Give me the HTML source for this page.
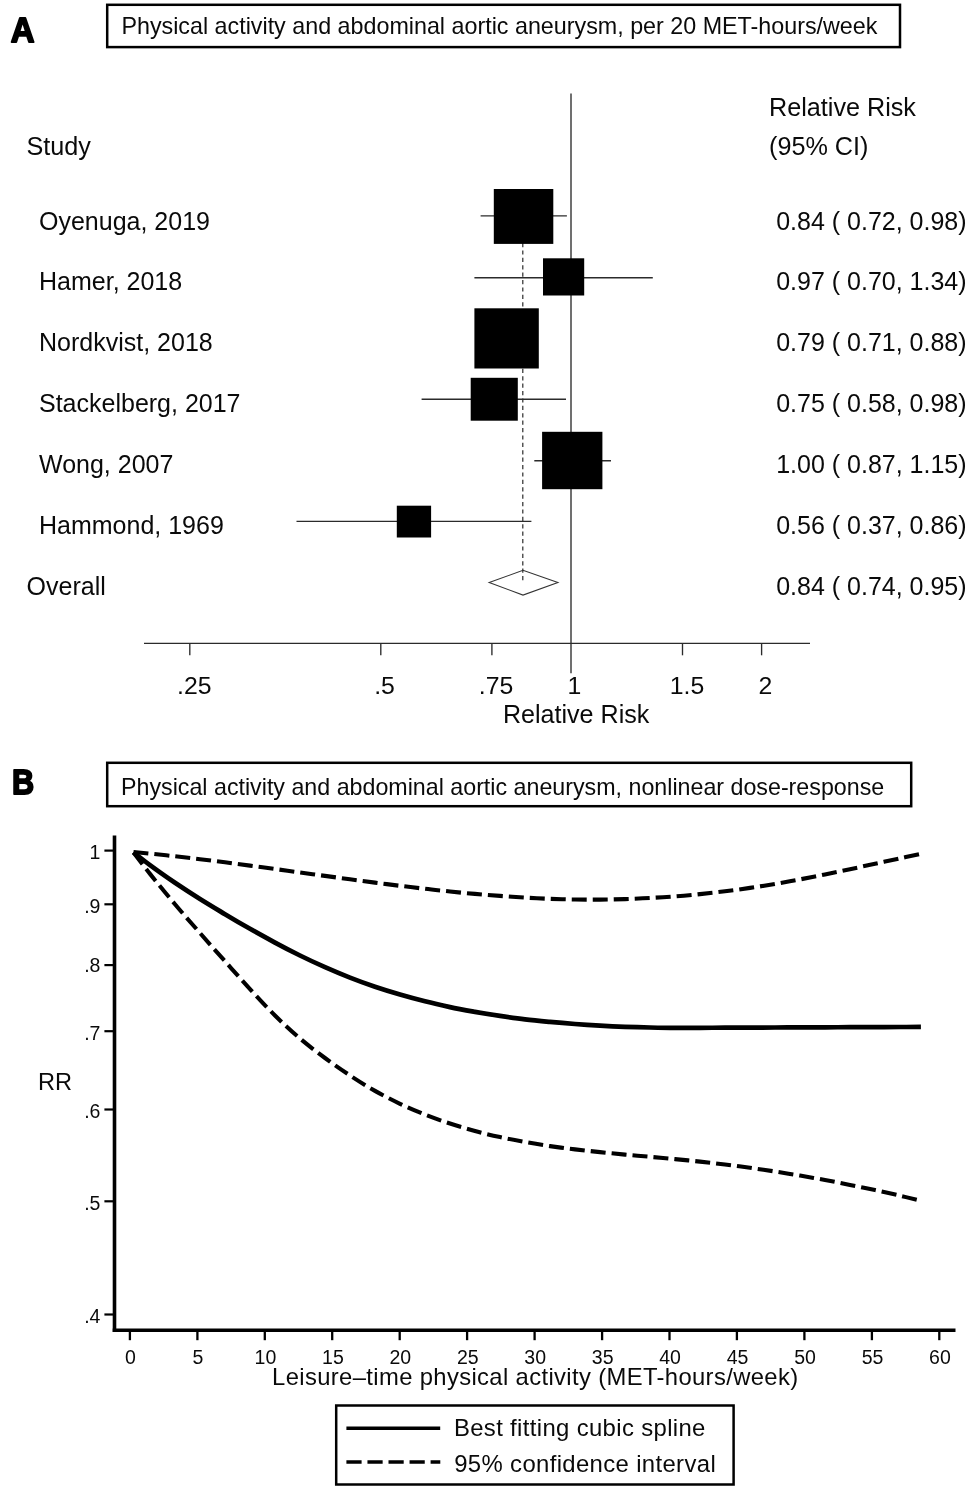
<!DOCTYPE html>
<html><head><meta charset="utf-8"><title>Figure</title>
<style>
html,body{margin:0;padding:0;background:#fff;}
body{width:969px;height:1490px;overflow:hidden;font-family:"Liberation Sans", sans-serif;}
svg{display:block;will-change:transform;font-family:"Liberation Sans", sans-serif;fill:#111;}
svg text{fill:#0a0a0a;}
.pl{fill:#000;stroke:#000;stroke-width:1.9px;stroke-linejoin:round;}
</style></head>
<body>
<svg width="969" height="1490" viewBox="0 0 969 1490">
<rect x="0" y="0" width="969" height="1490" fill="#fff"/>
<text x="10.7" y="42.3" font-size="35.6" text-anchor="start" font-weight="bold" class="pl" textLength="23.8" lengthAdjust="spacingAndGlyphs">A</text>
<rect x="107.2" y="4.8" width="792.8" height="42.3" fill="#fff" stroke="#000" stroke-width="2.5"/>
<text x="121.4" y="33.5" font-size="23.4" text-anchor="start" font-weight="normal" textLength="756" lengthAdjust="spacingAndGlyphs">Physical activity and abdominal aortic aneurysm, per 20 MET-hours/week</text>
<text x="26.4" y="155.2" font-size="25.2" text-anchor="start" font-weight="normal" >Study</text>
<text x="769" y="115.6" font-size="25.2" text-anchor="start" font-weight="normal" >Relative Risk</text>
<text x="769" y="155.4" font-size="25.2" text-anchor="start" font-weight="normal" >(95% CI)</text>
<text x="39.0" y="229.5" font-size="25.0" text-anchor="start" font-weight="normal" >Oyenuga, 2019</text>
<text x="966.6" y="229.5" font-size="25.0" text-anchor="end" font-weight="normal" >0.84 ( 0.72, 0.98)</text>
<text x="39.0" y="290.4" font-size="25.0" text-anchor="start" font-weight="normal" >Hamer, 2018</text>
<text x="966.6" y="290.4" font-size="25.0" text-anchor="end" font-weight="normal" >0.97 ( 0.70, 1.34)</text>
<text x="39.0" y="351.3" font-size="25.0" text-anchor="start" font-weight="normal" >Nordkvist, 2018</text>
<text x="966.6" y="351.3" font-size="25.0" text-anchor="end" font-weight="normal" >0.79 ( 0.71, 0.88)</text>
<text x="39.0" y="412.2" font-size="25.0" text-anchor="start" font-weight="normal" >Stackelberg, 2017</text>
<text x="966.6" y="412.2" font-size="25.0" text-anchor="end" font-weight="normal" >0.75 ( 0.58, 0.98)</text>
<text x="39.0" y="473.1" font-size="25.0" text-anchor="start" font-weight="normal" >Wong, 2007</text>
<text x="966.6" y="473.1" font-size="25.0" text-anchor="end" font-weight="normal" >1.00 ( 0.87, 1.15)</text>
<text x="39.0" y="534.0" font-size="25.0" text-anchor="start" font-weight="normal" >Hammond, 1969</text>
<text x="966.6" y="534.0" font-size="25.0" text-anchor="end" font-weight="normal" >0.56 ( 0.37, 0.86)</text>
<text x="26.6" y="594.9" font-size="25.0" text-anchor="start" font-weight="normal" >Overall</text>
<text x="966.6" y="594.9" font-size="25.0" text-anchor="end" font-weight="normal" >0.84 ( 0.74, 0.95)</text>
<line x1="571" y1="93.6" x2="571" y2="673.3" stroke="#2b2b2b" stroke-width="1.35" />
<line x1="144" y1="643.3" x2="810" y2="643.3" stroke="#2b2b2b" stroke-width="1.35" />
<line x1="189.8" y1="643.3" x2="189.8" y2="655.3" stroke="#2b2b2b" stroke-width="1.35" />
<line x1="380.8" y1="643.3" x2="380.8" y2="655.3" stroke="#2b2b2b" stroke-width="1.35" />
<line x1="491.9" y1="643.3" x2="491.9" y2="655.3" stroke="#2b2b2b" stroke-width="1.35" />
<line x1="682.5" y1="643.3" x2="682.5" y2="655.3" stroke="#2b2b2b" stroke-width="1.35" />
<line x1="761.6" y1="643.3" x2="761.6" y2="655.3" stroke="#2b2b2b" stroke-width="1.35" />
<text x="194.3" y="693.6" font-size="24.8" text-anchor="middle" font-weight="normal" >.25</text>
<text x="384.5" y="693.6" font-size="24.8" text-anchor="middle" font-weight="normal" >.5</text>
<text x="496" y="693.6" font-size="24.8" text-anchor="middle" font-weight="normal" >.75</text>
<text x="574.4" y="693.6" font-size="24.8" text-anchor="middle" font-weight="normal" >1</text>
<text x="687" y="693.6" font-size="24.8" text-anchor="middle" font-weight="normal" >1.5</text>
<text x="765.5" y="693.6" font-size="24.8" text-anchor="middle" font-weight="normal" >2</text>
<text x="576.1" y="722.8" font-size="25.1" text-anchor="middle" font-weight="normal" >Relative Risk</text>
<line x1="480.6" y1="215.8" x2="566.9" y2="215.8" stroke="#2b2b2b" stroke-width="1.35" />
<line x1="474.4" y1="277.7" x2="652.8" y2="277.7" stroke="#2b2b2b" stroke-width="1.35" />
<line x1="421.6" y1="399.2" x2="566.0" y2="399.2" stroke="#2b2b2b" stroke-width="1.35" />
<line x1="534.3" y1="460.7" x2="611.0" y2="460.7" stroke="#2b2b2b" stroke-width="1.35" />
<line x1="296.5" y1="521.4" x2="531.4" y2="521.4" stroke="#2b2b2b" stroke-width="1.35" />
<line x1="522.8" y1="243" x2="522.8" y2="582.5" stroke="#2b2b2b" stroke-width="1.2" stroke-dasharray="4.2 3.2"/>
<rect x="493.8" y="189.0" width="59.5" height="54.9" fill="#000"/>
<rect x="543.0" y="258.3" width="41.2" height="37.2" fill="#000"/>
<rect x="474.4" y="308.3" width="64.4" height="60.2" fill="#000"/>
<rect x="470.7" y="377.8" width="47.1" height="42.9" fill="#000"/>
<rect x="542.1" y="431.8" width="60.3" height="57.4" fill="#000"/>
<rect x="396.8" y="505.7" width="34.3" height="31.8" fill="#000"/>
<polygon points="489.2,582.5 523,570.3 557.9,582.5 523,595.1" fill="none" stroke="#333" stroke-width="1.1"/>
<text x="12.0" y="794.25" font-size="35.6" text-anchor="start" font-weight="bold" class="pl" textLength="22.2" lengthAdjust="spacingAndGlyphs">B</text>
<rect x="107.2" y="762.8" width="804" height="43.4" fill="#fff" stroke="#000" stroke-width="2.5"/>
<text x="121.0" y="794.7" font-size="23.4" text-anchor="start" font-weight="normal" textLength="763.2" lengthAdjust="spacingAndGlyphs">Physical activity and abdominal aortic aneurysm, nonlinear dose-response</text>
<line x1="114.5" y1="835.5" x2="114.5" y2="1332" stroke="#000" stroke-width="3.6" />
<line x1="112.7" y1="1330.2" x2="955.5" y2="1330.2" stroke="#000" stroke-width="3.6" />
<line x1="104.4" y1="850.6" x2="114.5" y2="850.6" stroke="#000" stroke-width="2.2" />
<text x="100.4" y="859.3" font-size="19.5" text-anchor="end" font-weight="normal" >1</text>
<line x1="104.4" y1="904.3" x2="114.5" y2="904.3" stroke="#000" stroke-width="2.2" />
<text x="100.4" y="912.7" font-size="19.5" text-anchor="end" font-weight="normal" >.9</text>
<line x1="104.4" y1="965.1" x2="114.5" y2="965.1" stroke="#000" stroke-width="2.2" />
<text x="100.4" y="972.3" font-size="19.5" text-anchor="end" font-weight="normal" >.8</text>
<line x1="104.4" y1="1031.2" x2="114.5" y2="1031.2" stroke="#000" stroke-width="2.2" />
<text x="100.4" y="1040.0" font-size="19.5" text-anchor="end" font-weight="normal" >.7</text>
<line x1="104.4" y1="1109.5" x2="114.5" y2="1109.5" stroke="#000" stroke-width="2.2" />
<text x="100.4" y="1118.0" font-size="19.5" text-anchor="end" font-weight="normal" >.6</text>
<line x1="104.4" y1="1201.3" x2="114.5" y2="1201.3" stroke="#000" stroke-width="2.2" />
<text x="100.4" y="1210.4" font-size="19.5" text-anchor="end" font-weight="normal" >.5</text>
<line x1="104.4" y1="1314.5" x2="114.5" y2="1314.5" stroke="#000" stroke-width="2.2" />
<text x="100.4" y="1323.4" font-size="19.5" text-anchor="end" font-weight="normal" >.4</text>
<line x1="129.9" y1="1330.2" x2="129.9" y2="1340.2" stroke="#000" stroke-width="2.3" />
<text x="130.5" y="1364.0" font-size="19.5" text-anchor="middle" font-weight="normal" >0</text>
<line x1="197.4" y1="1330.2" x2="197.4" y2="1340.2" stroke="#000" stroke-width="2.3" />
<text x="198.0" y="1364.0" font-size="19.5" text-anchor="middle" font-weight="normal" >5</text>
<line x1="264.8" y1="1330.2" x2="264.8" y2="1340.2" stroke="#000" stroke-width="2.3" />
<text x="265.4" y="1364.0" font-size="19.5" text-anchor="middle" font-weight="normal" >10</text>
<line x1="332.2" y1="1330.2" x2="332.2" y2="1340.2" stroke="#000" stroke-width="2.3" />
<text x="332.9" y="1364.0" font-size="19.5" text-anchor="middle" font-weight="normal" >15</text>
<line x1="399.7" y1="1330.2" x2="399.7" y2="1340.2" stroke="#000" stroke-width="2.3" />
<text x="400.3" y="1364.0" font-size="19.5" text-anchor="middle" font-weight="normal" >20</text>
<line x1="467.1" y1="1330.2" x2="467.1" y2="1340.2" stroke="#000" stroke-width="2.3" />
<text x="467.8" y="1364.0" font-size="19.5" text-anchor="middle" font-weight="normal" >25</text>
<line x1="534.6" y1="1330.2" x2="534.6" y2="1340.2" stroke="#000" stroke-width="2.3" />
<text x="535.2" y="1364.0" font-size="19.5" text-anchor="middle" font-weight="normal" >30</text>
<line x1="602.1" y1="1330.2" x2="602.1" y2="1340.2" stroke="#000" stroke-width="2.3" />
<text x="602.7" y="1364.0" font-size="19.5" text-anchor="middle" font-weight="normal" >35</text>
<line x1="669.5" y1="1330.2" x2="669.5" y2="1340.2" stroke="#000" stroke-width="2.3" />
<text x="670.1" y="1364.0" font-size="19.5" text-anchor="middle" font-weight="normal" >40</text>
<line x1="736.9" y1="1330.2" x2="736.9" y2="1340.2" stroke="#000" stroke-width="2.3" />
<text x="737.5" y="1364.0" font-size="19.5" text-anchor="middle" font-weight="normal" >45</text>
<line x1="804.4" y1="1330.2" x2="804.4" y2="1340.2" stroke="#000" stroke-width="2.3" />
<text x="805.0" y="1364.0" font-size="19.5" text-anchor="middle" font-weight="normal" >50</text>
<line x1="871.9" y1="1330.2" x2="871.9" y2="1340.2" stroke="#000" stroke-width="2.3" />
<text x="872.5" y="1364.0" font-size="19.5" text-anchor="middle" font-weight="normal" >55</text>
<line x1="939.3" y1="1330.2" x2="939.3" y2="1340.2" stroke="#000" stroke-width="2.3" />
<text x="939.9" y="1364.0" font-size="19.5" text-anchor="middle" font-weight="normal" >60</text>
<text x="38.0" y="1090.2" font-size="23.6" text-anchor="start" font-weight="normal" >RR</text>
<text x="272.1" y="1385.4" font-size="23.8" text-anchor="start" font-weight="normal" textLength="526" lengthAdjust="spacing">Leisure–time physical activity (MET-hours/week)</text>
<path d="M133.5,852.0 C136.2,852.3 143.1,852.9 150.0,853.6 C156.9,854.3 166.7,855.4 175.0,856.3 C183.3,857.2 191.7,858.2 200.0,859.2 C208.3,860.2 216.7,861.2 225.0,862.3 C233.3,863.4 241.7,864.5 250.0,865.6 C258.3,866.7 266.7,867.9 275.0,869.0 C283.3,870.1 291.7,871.4 300.0,872.5 C308.3,873.6 316.7,874.8 325.0,875.9 C333.3,877.0 341.7,878.2 350.0,879.3 C358.3,880.4 366.7,881.5 375.0,882.6 C383.3,883.7 391.7,884.8 400.0,885.8 C408.3,886.8 416.7,887.8 425.0,888.8 C433.3,889.8 441.7,890.6 450.0,891.5 C458.3,892.4 466.7,893.2 475.0,893.9 C483.3,894.6 491.7,895.3 500.0,895.9 C508.3,896.5 516.7,897.1 525.0,897.6 C533.3,898.1 541.7,898.5 550.0,898.8 C558.3,899.1 566.7,899.4 575.0,899.5 C583.3,899.6 591.7,899.7 600.0,899.6 C608.3,899.5 616.7,899.4 625.0,899.1 C633.3,898.8 641.7,898.5 650.0,898.0 C658.3,897.5 666.7,897.0 675.0,896.4 C683.3,895.8 691.7,895.0 700.0,894.1 C708.3,893.2 716.7,892.3 725.0,891.3 C733.3,890.3 741.7,889.1 750.0,887.9 C758.3,886.7 766.7,885.3 775.0,883.9 C783.3,882.5 791.7,881.0 800.0,879.4 C808.3,877.8 816.7,876.1 825.0,874.4 C833.3,872.7 841.7,871.0 850.0,869.2 C858.3,867.4 866.7,865.6 875.0,863.8 C883.3,862.0 892.4,860.0 900.0,858.3 C907.6,856.6 917.2,854.5 920.7,853.8" fill="none" stroke="#000" stroke-width="4.1" stroke-dasharray="15 6"/>
<path d="M133.5,852.6 C136.2,856.1 143.1,865.3 150.0,873.9 C156.9,882.5 166.7,894.4 175.0,904.2 C183.3,914.1 191.7,923.5 200.0,933.0 C208.3,942.5 216.7,951.9 225.0,961.2 C233.3,970.6 241.7,980.1 250.0,989.1 C258.3,998.1 266.7,1007.3 275.0,1015.5 C283.3,1023.7 291.7,1031.4 300.0,1038.5 C308.3,1045.6 316.7,1051.8 325.0,1058.0 C333.3,1064.2 341.7,1070.0 350.0,1075.5 C358.3,1081.0 366.7,1086.2 375.0,1090.9 C383.3,1095.6 391.7,1099.8 400.0,1103.8 C408.3,1107.8 416.7,1111.3 425.0,1114.6 C433.3,1117.9 441.7,1120.8 450.0,1123.5 C458.3,1126.2 466.7,1128.7 475.0,1131.0 C483.3,1133.3 491.7,1135.3 500.0,1137.1 C508.3,1138.9 516.7,1140.5 525.0,1142.0 C533.3,1143.5 541.7,1144.9 550.0,1146.1 C558.3,1147.3 566.7,1148.4 575.0,1149.4 C583.3,1150.4 591.7,1151.2 600.0,1152.1 C608.3,1153.0 616.7,1153.8 625.0,1154.6 C633.3,1155.4 641.7,1156.0 650.0,1156.8 C658.3,1157.5 666.7,1158.3 675.0,1159.1 C683.3,1159.9 691.7,1160.7 700.0,1161.6 C708.3,1162.5 716.7,1163.5 725.0,1164.5 C733.3,1165.5 741.7,1166.6 750.0,1167.8 C758.3,1169.0 766.7,1170.2 775.0,1171.5 C783.3,1172.8 791.7,1174.2 800.0,1175.6 C808.3,1177.0 816.7,1178.5 825.0,1180.0 C833.3,1181.5 841.7,1183.2 850.0,1184.9 C858.3,1186.6 866.7,1188.3 875.0,1190.1 C883.3,1191.9 892.4,1193.9 900.0,1195.7 C907.6,1197.5 917.2,1199.9 920.7,1200.7" fill="none" stroke="#000" stroke-width="4.1" stroke-dasharray="15 6"/>
<path d="M133.5,852.3 C136.2,854.4 143.1,860.0 150.0,865.1 C156.9,870.2 166.7,877.1 175.0,882.8 C183.3,888.4 191.7,893.8 200.0,899.0 C208.3,904.2 216.7,909.2 225.0,914.2 C233.3,919.2 241.7,924.1 250.0,928.8 C258.3,933.5 266.7,938.1 275.0,942.6 C283.3,947.1 291.7,951.4 300.0,955.5 C308.3,959.6 316.7,963.5 325.0,967.2 C333.3,970.9 341.7,974.4 350.0,977.6 C358.3,980.9 366.7,983.9 375.0,986.7 C383.3,989.5 391.7,992.1 400.0,994.5 C408.3,996.9 416.7,999.2 425.0,1001.3 C433.3,1003.4 441.7,1005.3 450.0,1007.1 C458.3,1008.9 466.7,1010.4 475.0,1011.9 C483.3,1013.4 491.7,1014.7 500.0,1015.9 C508.3,1017.1 516.7,1018.3 525.0,1019.3 C533.3,1020.3 541.7,1021.1 550.0,1021.9 C558.3,1022.7 566.7,1023.4 575.0,1024.0 C583.3,1024.6 591.7,1025.1 600.0,1025.6 C608.3,1026.1 616.7,1026.5 625.0,1026.8 C633.3,1027.1 641.7,1027.3 650.0,1027.5 C658.3,1027.7 666.7,1027.9 675.0,1027.9 C683.3,1028.0 691.7,1027.8 700.0,1027.8 C708.3,1027.8 716.7,1027.7 725.0,1027.7 C733.3,1027.7 741.7,1027.6 750.0,1027.6 C758.3,1027.6 766.7,1027.5 775.0,1027.5 C783.3,1027.5 791.7,1027.4 800.0,1027.4 C808.3,1027.4 816.7,1027.3 825.0,1027.3 C833.3,1027.3 841.7,1027.2 850.0,1027.2 C858.3,1027.2 866.7,1027.1 875.0,1027.1 C883.3,1027.1 892.4,1027.0 900.0,1027.0 C907.6,1027.0 917.4,1026.9 920.9,1026.9" fill="none" stroke="#000" stroke-width="4.7"/>
<rect x="336.2" y="1405.5" width="397.4" height="79" fill="#fff" stroke="#000" stroke-width="2.5"/>
<line x1="346.4" y1="1428.3" x2="440.2" y2="1428.3" stroke="#000" stroke-width="3.5" />
<line x1="346.4" y1="1462" x2="440.3" y2="1462" stroke="#000" stroke-width="3.6" stroke-dasharray="15.2 5.85"/>
<text x="453.9" y="1436.3" font-size="23.9" text-anchor="start" font-weight="normal" textLength="251.5" lengthAdjust="spacing">Best fitting cubic spline</text>
<text x="454.2" y="1471.7" font-size="23.9" text-anchor="start" font-weight="normal" textLength="261.5" lengthAdjust="spacing">95% confidence interval</text>
</svg>
</body></html>
